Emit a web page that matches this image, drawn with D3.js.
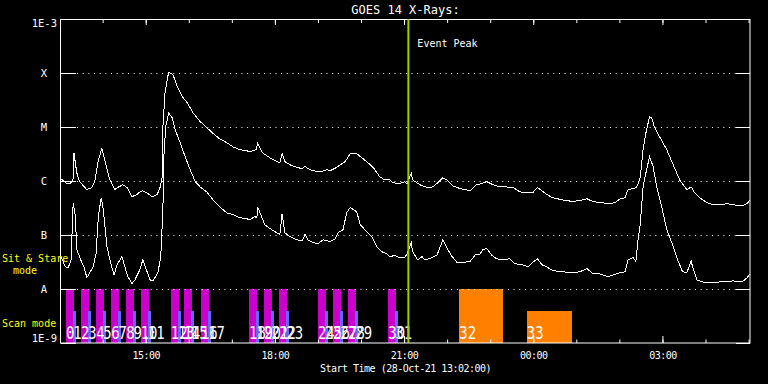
<!DOCTYPE html>
<html>
<head>
<meta charset="utf-8">
<script src="https://cdn.jsdelivr.net/npm/d3@7"></script>
<style>
  body { margin: 0; background: #000; }
  svg { display: block; background: #000; }
  text { font-family: "DejaVu Sans Mono", monospace; }
</style>
</head>
<body>
<svg id="chart"></svg>
<script>
// GOES 14 light curves, minutes after 13:02 UT and log10 flux (W/m^2)
const startTime = new Date(2021, 9, 28, 13, 2, 0);
const spanMinutes = 960;
const eventPeakMinute = 484;

const longMin = [0, 8, 13, 17, 18, 22, 26, 36, 43, 47, 52, 57, 61, 68, 75, 79, 86, 92, 99, 106, 110, 114, 120, 127, 134, 138, 141, 142, 145, 148, 150, 156, 162, 169, 176, 184, 194, 203, 212, 221, 231, 240, 249, 259, 263, 272, 274, 281, 291, 301, 305, 308, 312, 319, 329, 336, 340, 344, 351, 361, 371, 375, 384, 389, 396, 403, 412, 417, 426, 435, 444, 451, 458, 462, 472, 479, 482, 488, 490, 500, 510, 518, 525, 532, 538, 546, 556, 570, 579, 586, 593, 602, 612, 621, 630, 639, 649, 657, 664, 670, 677, 685, 699, 713, 723, 733, 741, 751, 765, 772, 779, 786, 790, 797, 802, 807, 811, 815, 820, 823, 827, 834, 844, 853, 862, 872, 878, 883, 890, 900, 908, 918, 928, 936, 949, 956, 960];
const longLog = [-5.96, -6.05, -6.05, -5.96, -5.48, -5.85, -6.01, -6.16, -6.12, -6.01, -5.61, -5.40, -5.61, -5.98, -6.16, -6.12, -6.07, -6.12, -6.29, -6.25, -6.20, -6.18, -6.22, -6.29, -6.25, -6.12, -5.92, -4.99, -4.36, -4.12, -3.99, -4.03, -4.25, -4.44, -4.55, -4.74, -4.90, -5.01, -5.12, -5.22, -5.29, -5.37, -5.42, -5.44, -5.46, -5.42, -5.31, -5.48, -5.57, -5.64, -5.66, -5.49, -5.64, -5.70, -5.75, -5.77, -5.73, -5.77, -5.81, -5.83, -5.79, -5.81, -5.75, -5.70, -5.64, -5.49, -5.49, -5.55, -5.64, -5.75, -5.92, -5.98, -5.98, -6.03, -6.05, -6.01, -6.05, -5.86, -5.98, -6.07, -6.12, -6.11, -6.03, -5.94, -5.98, -6.09, -6.14, -6.18, -6.07, -6.05, -6.01, -6.07, -6.11, -6.11, -6.12, -6.20, -6.22, -6.22, -6.12, -6.18, -6.25, -6.31, -6.35, -6.38, -6.36, -6.33, -6.38, -6.40, -6.42, -6.40, -6.33, -6.31, -6.16, -6.14, -6.12, -5.94, -5.42, -5.11, -4.81, -4.83, -5.01, -5.18, -5.42, -5.70, -5.98, -6.16, -6.11, -6.22, -6.31, -6.40, -6.44, -6.44, -6.42, -6.44, -6.46, -6.42, -6.35];

const shortMin = [0, 6, 10, 14, 17, 20, 22, 29, 32, 36, 40, 45, 49, 52, 56, 59, 64, 71, 74, 78, 85, 89, 93, 99, 103, 110, 114, 118, 124, 128, 135, 139, 142, 143, 146, 150, 155, 159, 166, 173, 180, 187, 194, 203, 212, 221, 231, 240, 249, 259, 263, 270, 273, 274, 280, 284, 291, 301, 305, 308, 312, 319, 329, 336, 340, 344, 351, 358, 365, 375, 382, 386, 393, 398, 403, 412, 417, 426, 433, 440, 447, 454, 458, 465, 472, 479, 482, 488, 490, 497, 503, 507, 517, 524, 532, 538, 545, 552, 560, 570, 577, 584, 588, 593, 600, 607, 616, 625, 632, 642, 651, 657, 664, 670, 677, 685, 699, 713, 723, 733, 741, 751, 762, 769, 779, 786, 790, 797, 801, 804, 807, 811, 815, 820, 825, 830, 837, 844, 851, 858, 866, 872, 878, 880, 886, 894, 908, 918, 928, 936, 949, 956, 960];
const shortLog = [-7.40, -7.59, -7.61, -7.46, -6.40, -6.66, -7.27, -7.51, -7.59, -7.79, -7.70, -7.59, -7.33, -6.66, -6.31, -6.53, -7.22, -7.61, -7.74, -7.55, -7.40, -7.59, -7.77, -7.90, -7.83, -7.64, -7.46, -7.61, -7.83, -7.85, -7.70, -7.40, -6.53, -5.61, -4.99, -4.74, -4.83, -5.05, -5.29, -5.55, -5.79, -6.01, -6.11, -6.20, -6.35, -6.48, -6.59, -6.62, -6.68, -6.70, -6.72, -6.66, -6.68, -6.48, -6.68, -6.81, -6.88, -6.96, -6.99, -6.61, -6.96, -7.03, -7.09, -7.11, -6.99, -7.09, -7.14, -7.16, -7.09, -7.12, -7.07, -6.96, -6.90, -6.59, -6.49, -6.57, -6.81, -6.94, -7.03, -7.22, -7.31, -7.35, -7.40, -7.38, -7.42, -7.42, -7.35, -7.14, -7.31, -7.46, -7.40, -7.46, -7.42, -7.37, -7.09, -7.25, -7.40, -7.51, -7.51, -7.49, -7.37, -7.35, -7.27, -7.25, -7.37, -7.44, -7.46, -7.44, -7.53, -7.55, -7.59, -7.51, -7.44, -7.55, -7.59, -7.66, -7.68, -7.70, -7.68, -7.62, -7.72, -7.72, -7.77, -7.74, -7.70, -7.68, -7.46, -7.42, -7.49, -7.09, -6.81, -6.11, -5.85, -5.55, -5.73, -6.11, -6.48, -6.90, -7.14, -7.42, -7.68, -7.70, -7.48, -7.59, -7.83, -7.87, -7.88, -7.87, -7.87, -7.85, -7.87, -7.79, -7.72];

// observations (raster numbers), start minute, duration, mode
const obsLabel = ['0', '1', '2', '3', '4', '5', '6', '7', '8', '9', '10', '11', '12', '13', '14', '15', '16', '17', '18', '19', '20', '21', '22', '23', '24', '25', '26', '27', '28', '29', '30', '31', '32', '33'];
const obsStart = [7, 17, 28, 38, 49, 59, 70, 80, 91, 101, 111, 121, 153, 163, 171, 181, 195, 205, 262, 272, 283, 293, 304, 314, 358, 368, 379, 389, 400, 410, 456, 466, 555, 649];
const obsDur = [11, 4, 11, 4, 11, 4, 11, 4, 11, 4, 11, 4, 11, 4, 11, 4, 11, 4, 11, 4, 11, 4, 11, 4, 11, 4, 11, 4, 11, 4, 11, 4, 61, 63];
const obsMode = ['sit', 'scan', 'sit', 'scan', 'sit', 'scan', 'sit', 'scan', 'sit', 'scan', 'sit', 'scan', 'sit', 'scan', 'sit', 'scan', 'sit', 'scan', 'sit', 'scan', 'sit', 'scan', 'sit', 'scan', 'sit', 'scan', 'sit', 'scan', 'sit', 'scan', 'sit', 'scan', 'sit', 'scan'];
const obsGroup = ['a', 'a', 'a', 'a', 'a', 'a', 'a', 'a', 'a', 'a', 'a', 'a', 'a', 'a', 'a', 'a', 'a', 'a', 'a', 'a', 'a', 'a', 'a', 'a', 'a', 'a', 'a', 'a', 'a', 'a', 'a', 'a', 'b', 'b'];

const decades = [1e-9, 1e-8, 1e-7, 1e-6, 1e-5, 1e-4, 1e-3];
const decadeLabels = ['1E-9', 'A', 'B', 'C', 'M', 'X', '1E-3'];

class GoesChart {
  constructor(_config) {
    this.config = {
      parentElement: _config.parentElement,
      containerWidth: _config.containerWidth || 768,
      containerHeight: _config.containerHeight || 384
    };
    this.config.margin = _config.margin || { top: 19, bottom: 41, right: 18, left: 61 };
    this.config.width = this.config.containerWidth - this.config.margin.left - this.config.margin.right;
    this.config.height = this.config.containerHeight - this.config.margin.top - this.config.margin.bottom;
    this.svg = d3.select(this.config.parentElement)
        .attr('width', this.config.containerWidth)
        .attr('height', this.config.containerHeight);
  }

  initVis() {
    let vis = this;
    const t = m => d3.timeMinute.offset(startTime, m);

    vis.chart = vis.svg.append('g')
        .attr('transform', `translate(${vis.config.margin.left}, ${vis.config.margin.top})`);

    vis.x = d3.scaleTime()
        .domain([startTime, t(spanMinutes)])
        .range([0, vis.config.width]);
    vis.y = d3.scaleLog()
        .domain([1e-9, 1e-3])
        .range([vis.config.height, 0]);

    vis.longData = longMin.map((m, i) => ({ t: t(m), v: Math.pow(10, longLog[i]) }));
    vis.shortData = shortMin.map((m, i) => ({ t: t(m), v: Math.pow(10, shortLog[i]) }));
    vis.obsData = obsLabel.map((l, i) => ({
      label: l, t0: t(obsStart[i]), t1: t(obsStart[i] + obsDur[i]), mode: obsMode[i], group: obsGroup[i]
    }));
    vis.eventTime = t(eventPeakMinute);

    vis.render();
  }

  render() {
    let vis = this;
    const w = vis.config.width, h = vis.config.height;
    const barTop = { sit: vis.y(1e-8), scan: vis.y(Math.pow(10, -8.4)) };

    // observation bars
    vis.chart.append('g')
        .selectAll('rect')
        .data(vis.obsData)
        .enter().append('rect')
        .attr('x', d => vis.x(d.t0))
        .attr('width', d => vis.x(d.t1) - vis.x(d.t0))
        .attr('y', d => barTop[d.mode])
        .attr('height', d => h - barTop[d.mode])
        .attr('fill', d => vis.getBarColor(d))
        .attr('shape-rendering', 'crispEdges');

    vis.chart.append('g')
        .selectAll('text')
        .data(vis.obsData)
        .enter().append('text')
        .attr('transform', d => `translate(${vis.x(d.t0)}, ${h - 4}) scale(0.82, 1)`)
        .attr('fill', '#fff')
        .attr('font-size', 17)
        .text(d => d.label);

    // dotted levels
    vis.chart.append('g')
        .selectAll('line')
        .data(decades.slice(1, -1))
        .enter().append('line')
        .attr('x1', 16).attr('x2', w - 14)
        .attr('y1', d => Math.round(vis.y(d)) + 0.5)
        .attr('y2', d => Math.round(vis.y(d)) + 0.5)
        .attr('stroke', '#fff')
        .attr('stroke-dasharray', '1,4.67');

    // light curves
    const line = d3.line()
        .x(d => vis.x(d.t))
        .y(d => vis.y(d.v));
    [vis.longData, vis.shortData].forEach(series => {
      vis.chart.append('path')
          .datum(series)
          .attr('d', line)
          .attr('fill', 'none')
          .attr('stroke', '#fff')
          .attr('stroke-width', 1)
          .attr('shape-rendering', 'crispEdges');
    });

    // axes
    const styleAxis = g => {
      g.select('.domain').remove();
      g.selectAll('line').attr('stroke', '#fff');
      g.selectAll('text').attr('fill', '#fff').attr('font-family', '"DejaVu Sans Mono", monospace');
    };

    vis.chart.append('g')
        .attr('transform', `translate(0, ${h})`)
        .call(d3.axisBottom(vis.x).ticks(d3.timeHour.every(1)).tickSize(-3.5).tickFormat(''))
        .call(styleAxis);
    vis.chart.append('g')
        .attr('transform', `translate(0, ${h})`)
        .call(d3.axisBottom(vis.x).ticks(d3.timeHour.every(3)).tickSize(-7).tickPadding(9)
            .tickFormat(d3.timeFormat('%H:%M')))
        .call(styleAxis)
        .call(g => g.selectAll('text').attr('font-size', 10).attr('letter-spacing', -0.5));

    vis.chart.append('g')
        .call(d3.axisTop(vis.x).ticks(d3.timeHour.every(1)).tickSize(-4).tickFormat(''))
        .call(styleAxis);
    vis.chart.append('g')
        .call(d3.axisTop(vis.x).ticks(d3.timeHour.every(3)).tickSize(-6).tickFormat(''))
        .call(styleAxis);

    vis.chart.append('g')
        .call(d3.axisLeft(vis.y).tickValues(decades).tickSize(-15).tickPadding(4)
            .tickFormat((d, i) => decadeLabels[i]))
        .call(styleAxis)
        .call(g => g.selectAll('text')
            .attr('font-size', 10.5)
            .attr('text-anchor', (d, i) => decadeLabels[i].length > 1 ? 'end' : 'middle')
            .attr('x', (d, i) => decadeLabels[i].length > 1 ? -4 : -17)
            .attr('dy', (d, i) => i === 0 ? '-0.1em' : (i === decades.length - 1 ? '0.7em' : '0.35em')));

    vis.chart.append('g')
        .attr('transform', `translate(${w}, 0)`)
        .call(d3.axisRight(vis.y).tickValues(decades).tickSize(-14).tickFormat(''))
        .call(styleAxis);

    vis.chart.append('rect')
        .attr('x', -0.5).attr('y', 0.5)
        .attr('width', w + 0.5).attr('height', h - 0.5)
        .attr('fill', 'none')
        .attr('stroke', '#fff');

    // event peak marker
    vis.chart.append('line')
        .attr('x1', vis.x(vis.eventTime)).attr('x2', vis.x(vis.eventTime))
        .attr('y1', 0).attr('y2', h)
        .attr('stroke', '#a0cc00')
        .attr('stroke-width', 2);
    vis.chart.append('text')
        .attr('x', vis.x(vis.eventTime) + 9)
        .attr('y', 28)
        .attr('fill', '#fff')
        .attr('font-size', 10)
        .text('Event Peak');

    // titles
    vis.svg.append('text')
        .attr('x', vis.config.margin.left + w / 2)
        .attr('y', 14)
        .attr('text-anchor', 'middle')
        .attr('fill', '#fff')
        .attr('font-size', 12)
        .text('GOES 14 X-Rays:');
    vis.svg.append('text')
        .attr('x', vis.config.margin.left + w / 2)
        .attr('y', 372)
        .attr('text-anchor', 'middle')
        .attr('fill', '#fff')
        .attr('font-size', 10)
        .attr('letter-spacing', -0.5)
        .text('Start Time (28-Oct-21 13:02:00)');

    const modeLabels = vis.svg.append('g')
        .attr('fill', '#ffff00')
        .attr('font-size', 10);
    modeLabels.append('text').attr('x', 2).attr('y', 262).text('Sit & Stare');
    modeLabels.append('text').attr('x', 13).attr('y', 274).text('mode');
    modeLabels.append('text').attr('x', 2).attr('y', 327).text('Scan mode');
  }

  getBarColor(d) {
    if (d.group === 'b') {
      return '#ff8000';
    } else if (d.mode === 'sit') {
      return '#cc00cc';
    } else {
      return '#6666ff';
    }
  }
}

const goes = new GoesChart({ parentElement: '#chart' });
goes.initVis();
</script>
</body>
</html>
